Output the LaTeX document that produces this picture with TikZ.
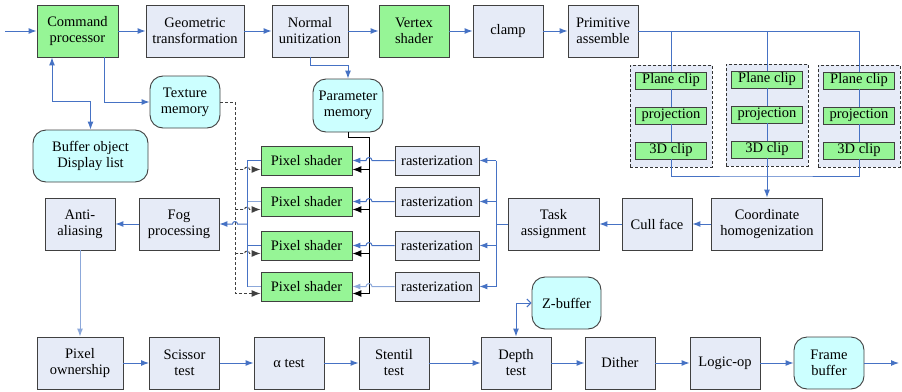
\documentclass[tikz,border=0pt]{standalone}
\usepackage{fontspec}
\setmainfont{Liberation Serif}
\usetikzlibrary{arrows.meta,calc}
\definecolor{boxgray}{RGB}{230,235,247}
\definecolor{shadegreen}{RGB}{150,245,150}
\definecolor{memcyan}{RGB}{204,255,255}
\definecolor{edgegray}{RGB}{64,64,64}
\definecolor{flowblue}{RGB}{70,114,196}
\definecolor{paleblue}{RGB}{140,168,218}

\begin{document}
\begin{tikzpicture}[x=1pt, y=-1pt,
  font=\fontsize{14.5}{16}\selectfont,
  stage/.style={draw=edgegray, line width=0.9pt, fill=boxgray, align=center, minimum width=70pt, minimum height=52pt, inner sep=1pt},
  greenstage/.style={stage, fill=shadegreen},
  memory/.style={stage, fill=memcyan, rounded corners=13pt},
  clipgroup/.style={draw=black!80, densely dashed, line width=0.8pt, fill=boxgray, minimum width=82pt, minimum height=102pt},
  clipstep/.style={draw=edgegray, line width=0.9pt, fill=shadegreen, minimum width=71pt, minimum height=17pt, inner sep=0pt},
  rowbox/.style={draw=edgegray, line width=0.9pt, fill=boxgray, minimum width=84pt, minimum height=29pt, inner sep=0pt},
  flow/.style={flowblue, line width=1pt},
  flowarrow/.style={flow, -{Latex[length=8pt,width=6pt]}},
  ctrlarrow/.style={black, line width=1pt, -{Latex[length=9pt,width=7pt]}},
  texarrow/.style={black!75, densely dashed, line width=0.9pt, -{Latex[length=9pt,width=7pt]}}
]
\useasboundingbox (0,0) rectangle (902,391);

% geometry stages
\node[greenstage, minimum width=81pt] (cmd) at (77.5,31) {Command\\processor};
\node[stage, minimum width=98pt] (geo) at (195,31) {Geometric\\transformation};
\node[stage, minimum width=76pt] (norm) at (310,31) {Normal\\unitization};
\node[greenstage] (vtx) at (414,31) {Vertex\\shader};
\node[stage] (clamp) at (508,31) {clamp};
\node[stage] (prim) at (603,31) {Primitive\\assemble};

\node[memory] (tex) at (185,102) {Texture\\memory};
\node[memory, minimum width=115pt] (buf) at (90.5,156) {Buffer object\\Display list};
\node[memory, minimum height=53pt] (param) at (348,105.5) {Parameter\\memory};

% clipping groups
\node[clipgroup] (grp1) at (671,116) {};
\node[clipgroup] (grp2) at (767,115) {};
\node[clipgroup] (grp3) at (859,116) {};
\node[clipstep] (pc1) at (671,80.5) {Plane clip};
\node[clipstep] (pj1) at (671,115.5) {projection};
\node[clipstep] (dc1) at (671,150.5) {3D clip};
\node[clipstep] (pc2) at (767,79.5) {Plane clip};
\node[clipstep] (pj2) at (767,114.5) {projection};
\node[clipstep] (dc2) at (767,149.5) {3D clip};
\node[clipstep] (pc3) at (859,80.5) {Plane clip};
\node[clipstep] (pj3) at (859,115.5) {projection};
\node[clipstep] (dc3) at (859,150.5) {3D clip};

\node[stage, minimum width=111pt] (coord) at (767,224) {Coordinate\\homogenization};
\node[stage] (cull) at (657,224) {Cull face};
\node[stage, minimum width=91pt] (task) at (553.5,224) {Task\\assignment};

% parallel rows
\node[rowbox] (ras1) at (437,160.5) {rasterization};
\node[rowbox] (ras2) at (437,201.5) {rasterization};
\node[rowbox] (ras3) at (437,245.5) {rasterization};
\node[rowbox] (ras4) at (437,286.5) {rasterization};
\node[rowbox, fill=shadegreen, minimum width=91pt] (ps1) at (306.5,160.5) {Pixel shader};
\node[rowbox, fill=shadegreen, minimum width=91pt] (ps2) at (306.5,201.5) {Pixel shader};
\node[rowbox, fill=shadegreen, minimum width=91pt] (ps3) at (306.5,245.5) {Pixel shader};
\node[rowbox, fill=shadegreen, minimum width=91pt] (ps4) at (306.5,286.5) {Pixel shader};

\node[stage, minimum width=80pt] (fog) at (179,224) {Fog\\processing};
\node[stage] (anti) at (80,224) {Anti-\\aliasing};

% fragment tests
\node[stage, minimum width=86pt] (own) at (80,363) {Pixel\\ownership};
\node[stage] (sci) at (184.5,363) {Scissor\\test};
\node[stage] (alpha) at (289,363) {α test};
\node[stage] (sten) at (394,363) {Stentil\\test};
\node[stage] (depth) at (516,363) {Depth\\test};
\node[stage] (dither) at (620,363) {Dither};
\node[stage] (logic) at (725,363) {Logic-op};
\node[memory] (frame) at (829,363) {Frame\\buffer};
\node[memory, minimum width=69pt] (zbuf) at (566.5,303) {Z-buffer};

\coordinate (start) at (5,31);
\coordinate (finish) at (899,363);
\coordinate (clipjoin) at (767,176);
\coordinate (rbus) at (496,224);
\coordinate (pbus) at (369,137);
\coordinate (lbus) at (247,224);
\coordinate (tbus) at (235,102);

% top row
\draw[flowarrow] (start) -- (cmd.west);
\draw[flowarrow] (cmd) -- (geo);
\draw[flowarrow] (geo) -- (norm);
\draw[flowarrow] (norm) -- (vtx);
\draw[flowarrow] (vtx) -- (clamp);
\draw[flowarrow] (clamp) -- (prim);
\draw[flowarrow] ($(cmd.south)+(26.5,0)$) |- (tex.west);
\draw[flow, {Latex[length=8pt,width=6pt]}-{Latex[length=8pt,width=6pt]}] (buf.north) |- ($(cmd.south)+(-25.5,44)$) -- ($(cmd.south)+(-25.5,0)$);
\draw[flowarrow] (norm.south) -- ++(0,8) -| (param.north);

% clipping
\draw[flow] (prim.east) -- (pc3.north |- prim.east) -- (pc3.north);
\draw[flow] (pc1.north |- prim.east) -- (pc1.north);
\draw[flow] (pc2.north |- prim.east) -- (pc2.north);
\draw[flow] (pc1) -- (pj1) -- (dc1);
\draw[flow] (pc2) -- (pj2) -- (dc2);
\draw[flow] (pc3) -- (pj3) -- (dc3);
\draw[flow] (dc1.south) |- (clipjoin) -| (dc3.south);
\draw[flowarrow] (dc2.south) -- (coord.north);
\draw[flowarrow] (coord) -- (cull);
\draw[flowarrow] (cull) -- (task);

% task split
\draw[flow] (task.west) -- (rbus);
\draw[flow] (rbus |- ras1.east) -- (rbus |- ras4.east);
\draw[flowarrow] (rbus |- ras1.east) -- (ras1.east);
\draw[flowarrow] (rbus |- ras2.east) -- (ras2.east);
\draw[flowarrow] (rbus |- ras3.east) -- (ras3.east);
\draw[flowarrow] (rbus |- ras4.east) -- (ras4.east);

% parameter memory feed
\draw[black, line width=1pt] (param.south) |- (pbus) -- ($(pbus |- ps4.east)+(0,7)$);
\draw[ctrlarrow] ($(pbus |- ps1.east)+(0,9)$) -- ($(ps1.east)+(0,9)$);
\draw[ctrlarrow] ($(pbus |- ps2.east)+(0,8)$) -- ($(ps2.east)+(0,8)$);
\draw[ctrlarrow] ($(pbus |- ps3.east)+(0,8)$) -- ($(ps3.east)+(0,8)$);
\draw[ctrlarrow] ($(pbus |- ps4.east)+(0,7)$) -- ($(ps4.east)+(0,7)$);

% rasterization to pixel shaders
\draw[flowarrow] (ras1.west) -- ($(pbus |- ras1.west)+(3,0)$) arc[start angle=0, end angle=180, radius=3pt] -- (ps1.east);
\draw[flowarrow] (ras2.west) -- ($(pbus |- ras2.west)+(3,0)$) arc[start angle=0, end angle=180, radius=3pt] -- (ps2.east);
\draw[flowarrow] (ras3.west) -- ($(pbus |- ras3.west)+(3,0)$) arc[start angle=0, end angle=180, radius=3pt] -- (ps3.east);
\draw[flowarrow, paleblue] (ras4.west) -- ($(pbus |- ras4.west)+(3,0)$) arc[start angle=0, end angle=180, radius=3pt] -- (ps4.east);

% texture memory feed
\draw[texarrow] (tex.east) -- (tbus) |- ($(ps4.west)+(0,7)$);
\draw[texarrow] ($(tbus |- ps1.west)+(0,9)$) -- ($(lbus |- ps1.west)+(-2.5,9)$) arc[start angle=180, end angle=0, radius=2.5pt] -- ($(ps1.west)+(0,9)$);
\draw[texarrow] ($(tbus |- ps2.west)+(0,8)$) -- ($(lbus |- ps2.west)+(-2.5,8)$) arc[start angle=180, end angle=0, radius=2.5pt] -- ($(ps2.west)+(0,8)$);
\draw[texarrow] ($(tbus |- ps3.west)+(0,8)$) -- ($(lbus |- ps3.west)+(-2.5,8)$) arc[start angle=180, end angle=0, radius=2.5pt] -- ($(ps3.west)+(0,8)$);

% pixel shaders to fog
\draw[flow] (ps1.west) -- (lbus |- ps1.west);
\draw[flow, paleblue] (ps2.west) -- (lbus |- ps2.west);
\draw[flow] (ps3.west) -- (lbus |- ps3.west);
\draw[flow, paleblue] (ps4.west) -- (lbus |- ps4.west);
\draw[flow] (lbus |- ps1.west) -- (lbus |- ps4.west);
\draw[flowarrow] (lbus) -- ($(tbus |- lbus)+(2.5,0)$) arc[start angle=0, end angle=180, radius=2.5pt] -- (fog.east);
\draw[flowarrow] (fog) -- (anti);
\draw[flowarrow, paleblue] (anti) -- (own);

% bottom row
\draw[flowarrow] (own) -- (sci);
\draw[flowarrow] (sci) -- (alpha);
\draw[flowarrow] (alpha) -- (sten);
\draw[flowarrow] (sten) -- (depth);
\draw[flowarrow] (depth) -- (dither);
\draw[flowarrow] (dither) -- (logic);
\draw[flowarrow] (logic) -- (frame);
\draw[flowarrow] (frame.east) -- (finish);
\draw[flow, {Latex[length=8pt,width=6pt]}-{Straight Barb[length=4pt,width=8pt]}] (depth.north) |- (zbuf.west);
\end{tikzpicture}
\end{document}
